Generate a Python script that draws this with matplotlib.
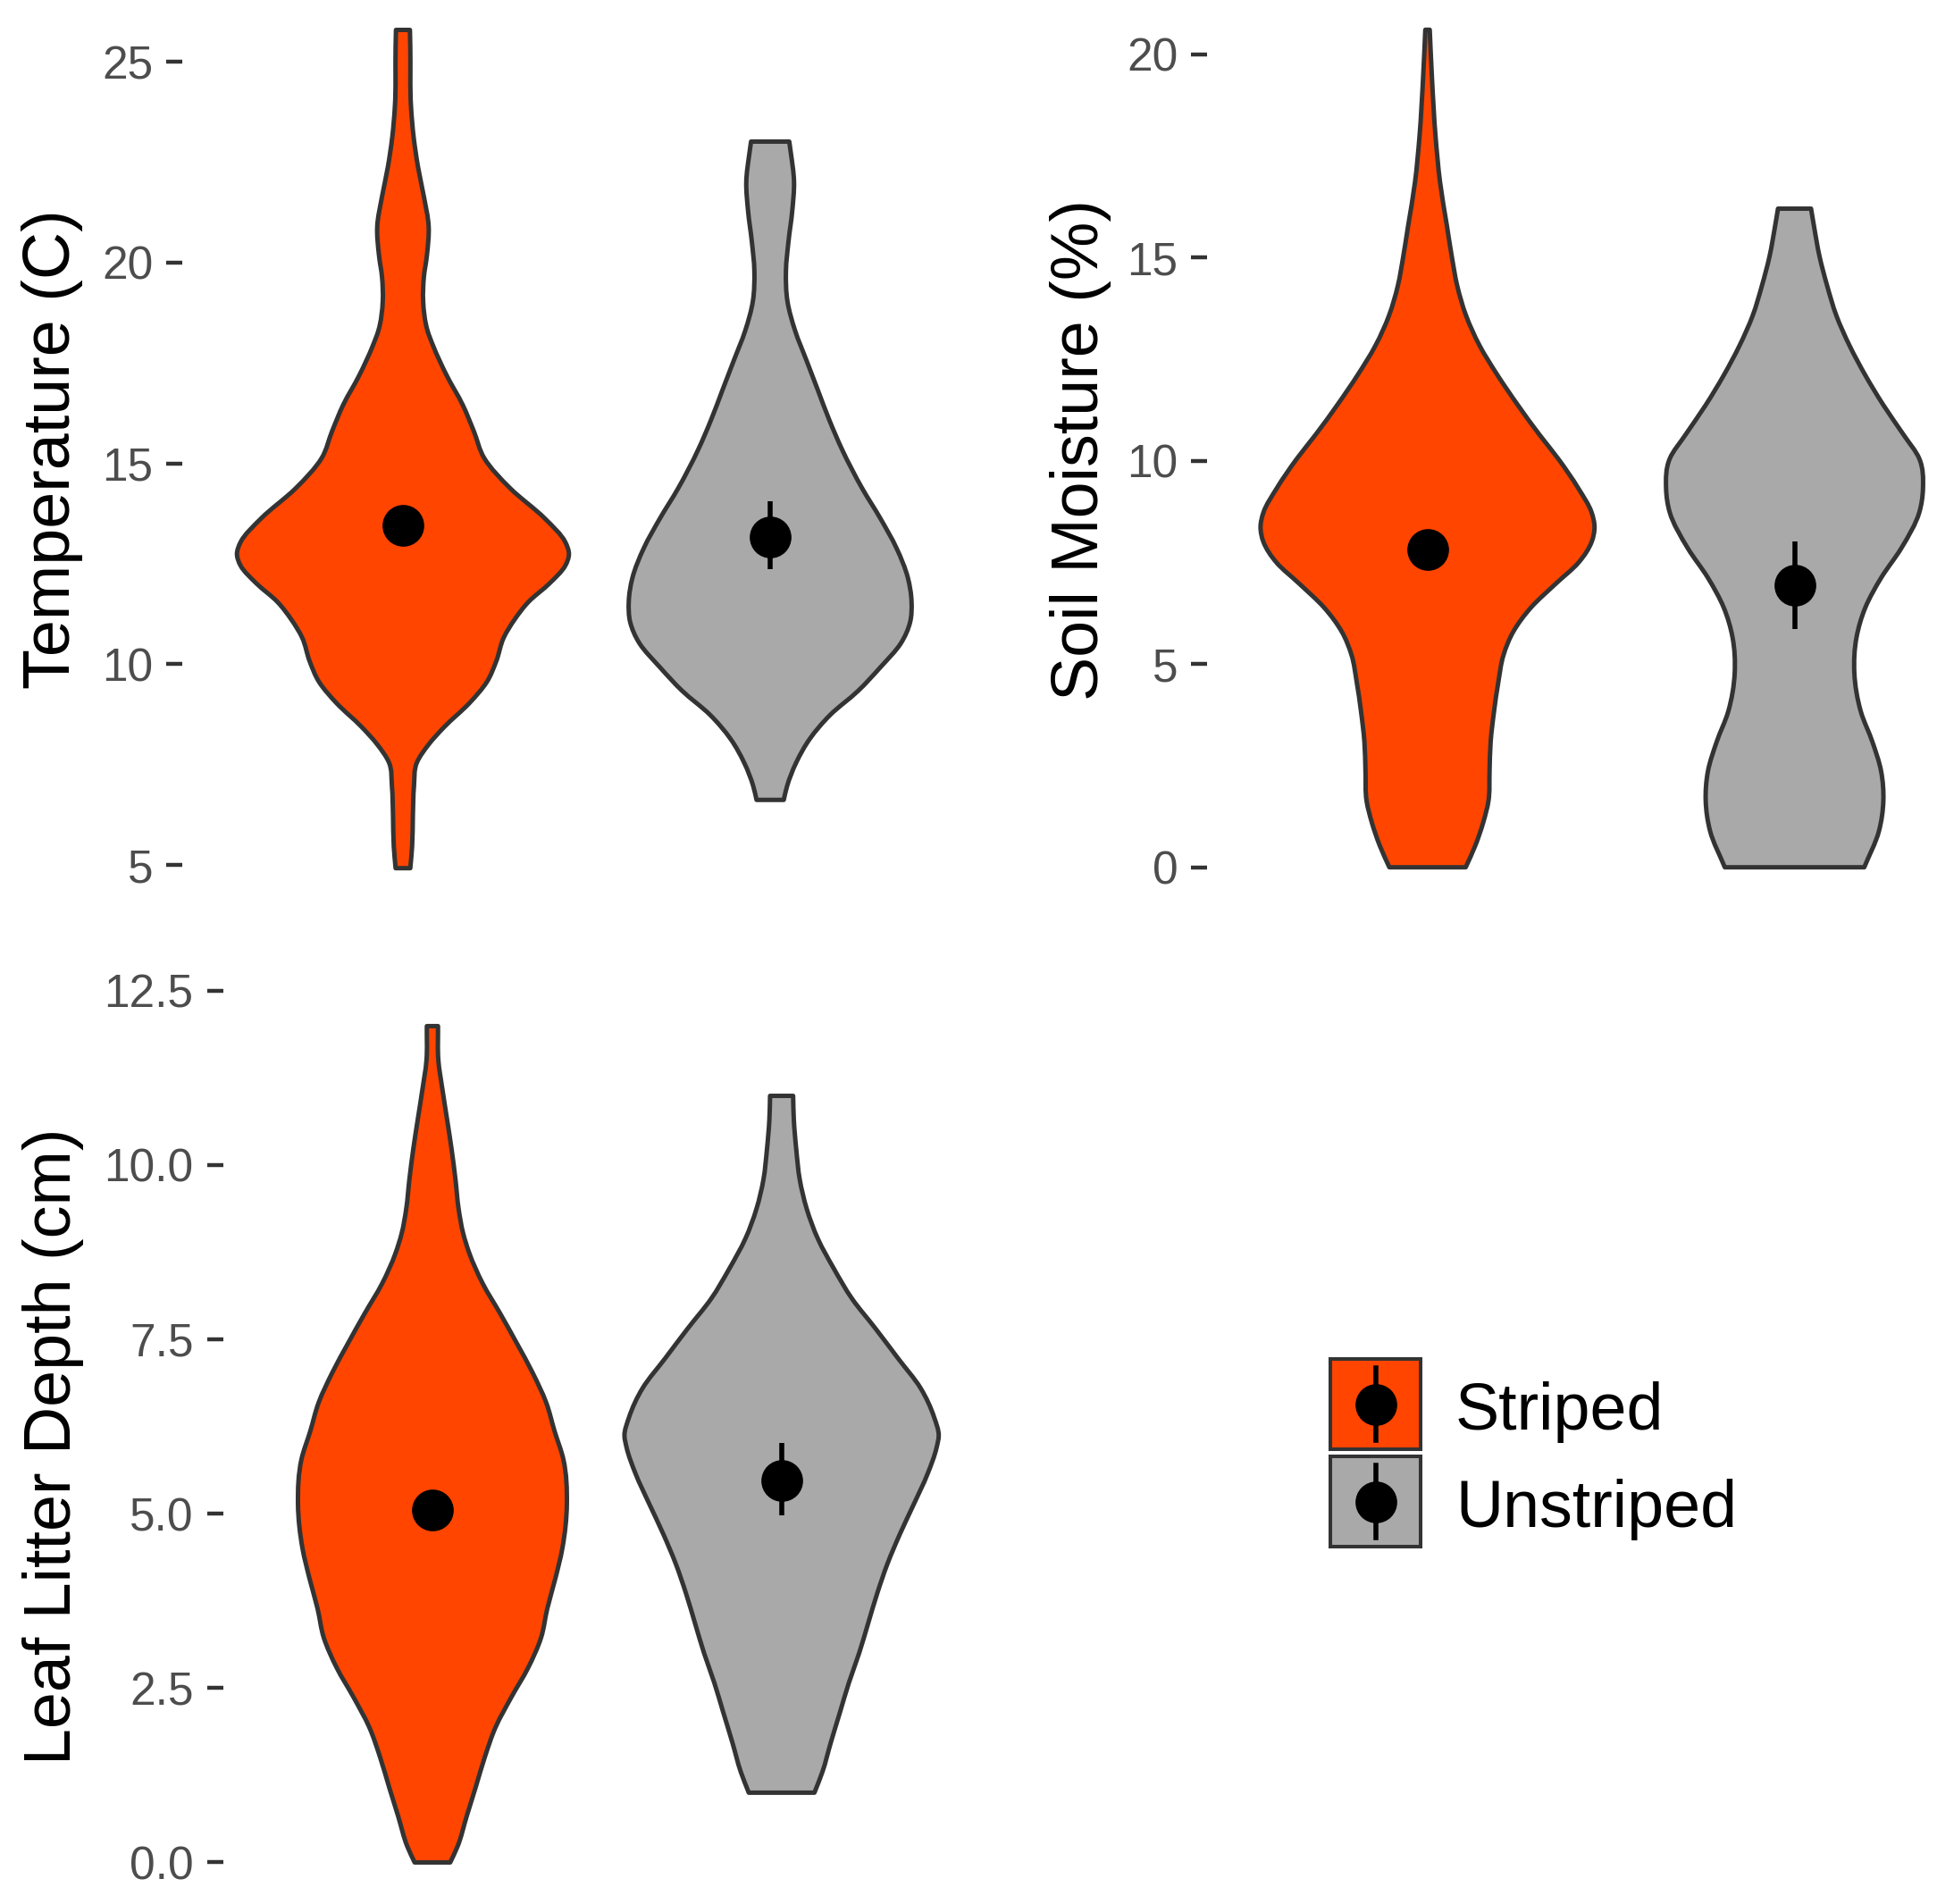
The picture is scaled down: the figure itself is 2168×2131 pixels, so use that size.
import matplotlib
matplotlib.use('Agg')
import matplotlib.pyplot as plt
import numpy as np
from matplotlib.path import Path
from matplotlib.patches import PathPatch, Rectangle
from matplotlib.lines import Line2D
from matplotlib.legend_handler import HandlerBase

plt.rcParams['font.family'] = ['Liberation Sans', 'DejaVu Sans']

# ---------------- data ----------------
groups = ['Striped', 'Unstriped']
colors = ['#FF4500', '#A9A9A9']

# violin outlines: value levels (top -> bottom) and half-widths (category units)
temp_striped_y = [25.79, 25.35, 23.87, 23.13, 22.38, 21.64, 20.90, 20.16, 19.64, 19.04, 18.30, 17.93,
                  17.19, 16.45, 15.80, 15.12, 14.37, 13.63, 13.04, 12.74, 12.45, 12.00, 11.56, 11.11,
                  10.67, 10.07, 9.55, 9.03, 8.44, 8.00, 7.55, 6.96, 6.22, 5.47, 4.92]
temp_striped_hw = [0.019, 0.020, 0.022, 0.029, 0.041, 0.057, 0.070, 0.065, 0.057, 0.055, 0.067, 0.082,
                   0.119, 0.163, 0.193, 0.222, 0.293, 0.386, 0.442, 0.452, 0.442, 0.398, 0.343, 0.304,
                   0.275, 0.254, 0.228, 0.181, 0.113, 0.070, 0.038, 0.030, 0.027, 0.025, 0.020]
temp_unstriped_y = [23.01, 22.75, 22.01, 21.27, 20.53, 19.79, 19.04, 18.30, 17.56, 16.82, 16.08, 15.34,
                    14.37, 13.63, 12.89, 12.15, 11.56, 11.04, 10.52, 9.92, 9.33, 8.74, 8.14, 7.55,
                    6.96, 6.62]
temp_unstriped_hw = [0.052, 0.056, 0.065, 0.060, 0.050, 0.043, 0.047, 0.068, 0.099, 0.130, 0.161, 0.196,
                     0.251, 0.300, 0.344, 0.375, 0.385, 0.381, 0.356, 0.300, 0.239, 0.164, 0.108,
                     0.071, 0.046, 0.037]

sm_striped_y = [20.60, 19.43, 17.96, 16.86, 15.77, 15.03, 14.30, 13.57, 12.83, 12.10, 11.37, 10.64,
                10.05, 9.32, 8.73, 8.37, 8.00, 7.49, 6.98, 6.39, 5.80, 5.22, 4.56, 3.82, 3.09, 2.36,
                1.63, 1.11, 0.53, 0.0]
sm_striped_hw = [0.006, 0.012, 0.022, 0.034, 0.053, 0.066, 0.081, 0.105, 0.142, 0.191, 0.246, 0.305,
                 0.356, 0.411, 0.447, 0.455, 0.447, 0.411, 0.350, 0.282, 0.234, 0.207, 0.193, 0.181,
                 0.172, 0.169, 0.166, 0.152, 0.130, 0.104]
sm_unstriped_y = [16.20, 15.77, 15.03, 14.30, 13.57, 12.83, 12.10, 11.37, 10.64, 10.05, 9.32, 8.73,
                  7.85, 7.12, 6.39, 5.66, 4.78, 3.82, 3.09, 2.36, 1.63, 0.89, 0.0]
sm_unstriped_hw = [0.045, 0.053, 0.068, 0.089, 0.114, 0.150, 0.193, 0.242, 0.297, 0.340, 0.350, 0.340,
                   0.291, 0.236, 0.193, 0.169, 0.163, 0.181, 0.212, 0.236, 0.242, 0.230, 0.190]

ll_striped_y = [11.99, 11.50, 11.07, 10.65, 10.22, 9.79, 9.37, 9.02, 8.73, 8.30, 7.87, 7.44, 7.02,
                6.59, 6.18, 5.78, 5.14, 4.50, 4.07, 3.64, 3.22, 2.79, 2.36, 1.94, 1.51, 1.08, 0.66,
                0.23, 0.0]
ll_striped_hw = [0.016, 0.017, 0.029, 0.042, 0.055, 0.066, 0.075, 0.088, 0.106, 0.144, 0.194, 0.242,
                 0.287, 0.326, 0.350, 0.375, 0.385, 0.372, 0.352, 0.329, 0.311, 0.274, 0.225, 0.181,
                 0.150, 0.124, 0.098, 0.072, 0.051]
ll_unstriped_y = [10.99, 10.65, 10.22, 9.79, 9.37, 8.94, 8.51, 8.08, 7.66, 7.23, 6.80, 6.38, 6.12,
                  5.95, 5.57, 5.14, 4.71, 4.28, 3.86, 3.43, 3.00, 2.58, 2.15, 1.72, 1.30, 1.00]
ll_unstriped_hw = [0.033, 0.035, 0.042, 0.052, 0.072, 0.104, 0.150, 0.202, 0.268, 0.333, 0.398, 0.437,
                   0.450, 0.444, 0.418, 0.379, 0.339, 0.303, 0.274, 0.248, 0.222, 0.193, 0.167, 0.141,
                   0.117, 0.094]

# point ranges (mean, low, high) per group
temp_mean = [13.45, 13.17]
temp_low = [13.15, 12.36]
temp_high = [13.75, 14.06]
sm_mean = [7.82, 6.94]
sm_low = [7.47, 5.86]
sm_high = [8.17, 8.01]
ll_mean = [5.05, 5.48]
ll_low = [4.85, 4.97]
ll_high = [5.25, 6.01]

temp_ticks = [5, 10, 15, 20, 25]
sm_ticks = [0, 5, 10, 15, 20]
ll_ticks = [0.0, 2.5, 5.0, 7.5, 10.0, 12.5]
ll_ticklabels = ['0.0', '2.5', '5.0', '7.5', '10.0', '12.5']

# ---------------- figure ----------------
W, H = 2168, 2131
DPI = 200
fig = plt.figure(figsize=(W / DPI, H / DPI), dpi=DPI)
fig.patch.set_facecolor('white')

EDGE = '#333333'
OUTLINE_LW = 1.8


def add_ax(left, right, top, bottom):
    return fig.add_axes([left / W, 1 - bottom / H, (right - left) / W, (bottom - top) / H])


def hermite_side(xs, ys):
    """Bezier control points of a smooth curve x(y) through the given outline points."""
    xs = np.asarray(xs, float)
    ys = np.asarray(ys, float)
    n = len(xs)
    d = np.diff(xs) / np.diff(ys)
    h = np.diff(ys)
    m = np.empty(n)
    m[0] = d[0]
    m[-1] = d[-1]
    for i in range(1, n - 1):
        h0, h1 = h[i - 1], h[i]
        m[i] = (h1 * d[i - 1] + h0 * d[i]) / (h0 + h1)
    verts = []
    for i in range(n - 1):
        dy = h[i]
        c1 = (xs[i] + m[i] * dy / 3.0, ys[i] + dy / 3.0)
        c2 = (xs[i + 1] - m[i + 1] * dy / 3.0, ys[i + 1] - dy / 3.0)
        verts += [c1, c2, (xs[i + 1], ys[i + 1])]
    return verts


def violin(ax, center, ys, hws, color):
    ys = np.asarray(ys, float)
    hws = np.asarray(hws, float)
    rx = center + hws
    lx = (center - hws)[::-1]
    ly = ys[::-1]
    verts = [(rx[0], ys[0])]
    codes = [Path.MOVETO]
    rv = hermite_side(rx, ys)
    verts += rv
    codes += [Path.CURVE4] * len(rv)
    verts.append((lx[0], ly[0]))
    codes.append(Path.LINETO)
    lv = hermite_side(lx, ly)
    verts += lv
    codes += [Path.CURVE4] * len(lv)
    verts.append((rx[0], ys[0]))
    codes.append(Path.CLOSEPOLY)
    patch = PathPatch(Path(np.array(verts), codes), facecolor=color, edgecolor=EDGE,
                      lw=OUTLINE_LW, joinstyle='round', zorder=2)
    ax.add_patch(patch)


def style_axis(ax, ylim, ticks, ticklabels=None):
    ax.set_xlim(0.4, 2.6)
    ax.set_ylim(*ylim)
    for s in ax.spines.values():
        s.set_visible(False)
    ax.set_facecolor('none')
    ax.set_xticks([])
    ax.set_yticks(ticks)
    if ticklabels is not None:
        ax.set_yticklabels(ticklabels)
    ax.tick_params(axis='y', direction='out', length=6.5, width=1.6, color=EDGE,
                   labelcolor='#4D4D4D', labelsize=18.5, pad=5.4)


def panel(ax, profiles, means, lows, highs):
    xs = [1, 2]
    for x, (ys, hws), c in zip(xs, profiles, colors):
        violin(ax, x, ys, hws, c)
    ax.vlines(xs, lows, highs, colors='black', lw=2.0, zorder=3)
    ax.plot(xs, means, 'o', color='black', ms=15.8, zorder=4, linestyle='none')


ax1 = add_ax(204.4, 1108.6, 0, 1000)
panel(ax1, [(temp_striped_y, temp_striped_hw), (temp_unstriped_y, temp_unstriped_hw)],
      temp_mean, temp_low, temp_high)
style_axis(ax1, (4.29, 26.535), temp_ticks)

ax2 = add_ax(1351.3, 2255.0, 0, 1000)
panel(ax2, [(sm_striped_y, sm_striped_hw), (sm_unstriped_y, sm_unstriped_hw)],
      sm_mean, sm_low, sm_high)
style_axis(ax2, (-0.644, 21.332), sm_ticks)

ax3 = add_ax(249.5, 1109.3, 1060, 2131)
panel(ax3, [(ll_striped_y, ll_striped_hw), (ll_unstriped_y, ll_unstriped_hw)],
      ll_mean, ll_low, ll_high)
style_axis(ax3, (-0.596, 13.123), ll_ticks, ll_ticklabels)

# axis titles
fig.text(59 / W, 1 - 503 / H, 'Temperature (C)', rotation=90, ha='center', va='center',
         fontsize=26.5, color='black')
fig.text(1210 / W, 1 - 504 / H, 'Soil Moisture (%)', rotation=90, ha='center', va='center',
         fontsize=26.5, color='black')
fig.text(60 / W, 1 - 1619 / H, 'Leaf Litter Depth (cm)', rotation=90, ha='center', va='center',
         fontsize=26.5, color='black')


# legend
class PointRangeKey:
    def __init__(self, color):
        self.color = color


class PointRangeHandler(HandlerBase):
    def create_artists(self, legend, orig_handle, xdescent, ydescent, width, height, fontsize, trans):
        x0 = -xdescent
        box_h = 1.372 * fontsize
        y0 = -0.30 * fontsize
        rect = Rectangle((x0, y0), width, box_h, facecolor=orig_handle.color,
                         edgecolor=EDGE, lw=1.45, transform=trans)
        cx = x0 + width / 2
        line = Line2D([cx, cx], [y0 + 0.1 * box_h, y0 + 0.9 * box_h], color='black',
                      lw=2.0, transform=trans)
        dot = Line2D([cx], [y0 + box_h / 2], marker='o', ms=15.8, color='black',
                     linestyle='none', transform=trans)
        return [rect, line, dot]


fs = 26.5
fs_px = fs * DPI / 72
fig.legend(handles=[PointRangeKey(c) for c in colors], labels=groups,
           handler_map={PointRangeKey: PointRangeHandler()},
           loc='upper left', bbox_to_anchor=(1489 / W, 1 - 1525.6 / H),
           frameon=False, fontsize=fs, handlelength=101 / fs_px, handleheight=1.734,
           handletextpad=39 / fs_px, labelspacing=8 / fs_px, borderpad=0, borderaxespad=0)

fig.savefig('out.png', dpi=DPI, facecolor='white')
